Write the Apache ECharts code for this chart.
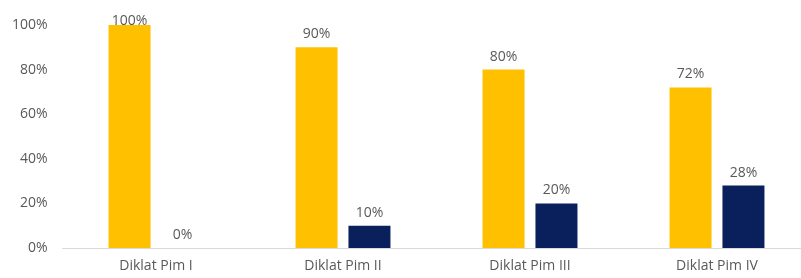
<!DOCTYPE html>
<html>
<head>
<meta charset="utf-8">
<script src="https://cdn.jsdelivr.net/npm/echarts@6/dist/echarts.min.js"></script>
<style>
  html, body { margin: 0; padding: 0; background: #fff; }
  #chart { width: 801px; height: 278px; }
</style>
</head>
<body>
<div id="chart"></div>
<script>
var categories = ['Diklat Pim I', 'Diklat Pim II', 'Diklat Pim III', 'Diklat Pim IV'];
var yellowValues = [100, 90, 80, 72];
var blueValues = [0, 10, 20, 28];
var yTicks = [0, 20, 40, 60, 80, 100];

var chart = echarts.init(document.getElementById('chart'));

var labelStyle = {
  show: true,
  position: 'top',
  distance: 6,
  color: '#595959',
  fontSize: 14,
  fontFamily: 'Open Sans',
  formatter: '{c}%'
};

// the 100% label sits lower, overlapping the bar top
var yellowData = yellowValues.map(function (v) {
  if (v == 100) {
    return { value: v, label: { offset: [0, 9] } };
  }
  return v;
});

var option = {
  animation: false,
  // plot runs past the right edge, as in the cropped original
  grid: { left: 62.5, width: 748, top: 25, bottom: 30, outerBoundsMode: 'none' },
  xAxis: {
    type: 'category',
    data: categories,
    axisLine: { lineStyle: { color: '#d9d9d9', width: 1 } },
    axisTick: { show: false },
    axisLabel: { color: '#595959', fontSize: 14, fontFamily: 'Open Sans', margin: 11 }
  },
  yAxis: {
    type: 'value',
    min: yTicks[0],
    max: yTicks[yTicks.length - 1],
    interval: 20,
    axisLine: { show: false },
    axisTick: { show: false },
    splitLine: { show: false },
    axisLabel: { color: '#595959', fontSize: 14, fontFamily: 'Open Sans', margin: 15, formatter: '{value}%' }
  },
  series: [
    {
      type: 'bar',
      data: yellowData,
      barWidth: 42,
      barGap: '26%',
      itemStyle: { color: '#FFC000' },
      label: labelStyle
    },
    {
      type: 'bar',
      data: blueValues,
      barWidth: 42,
      itemStyle: { color: '#0A205C' },
      label: labelStyle
    }
  ]
};

chart.setOption(option);
</script>
</body>
</html>
